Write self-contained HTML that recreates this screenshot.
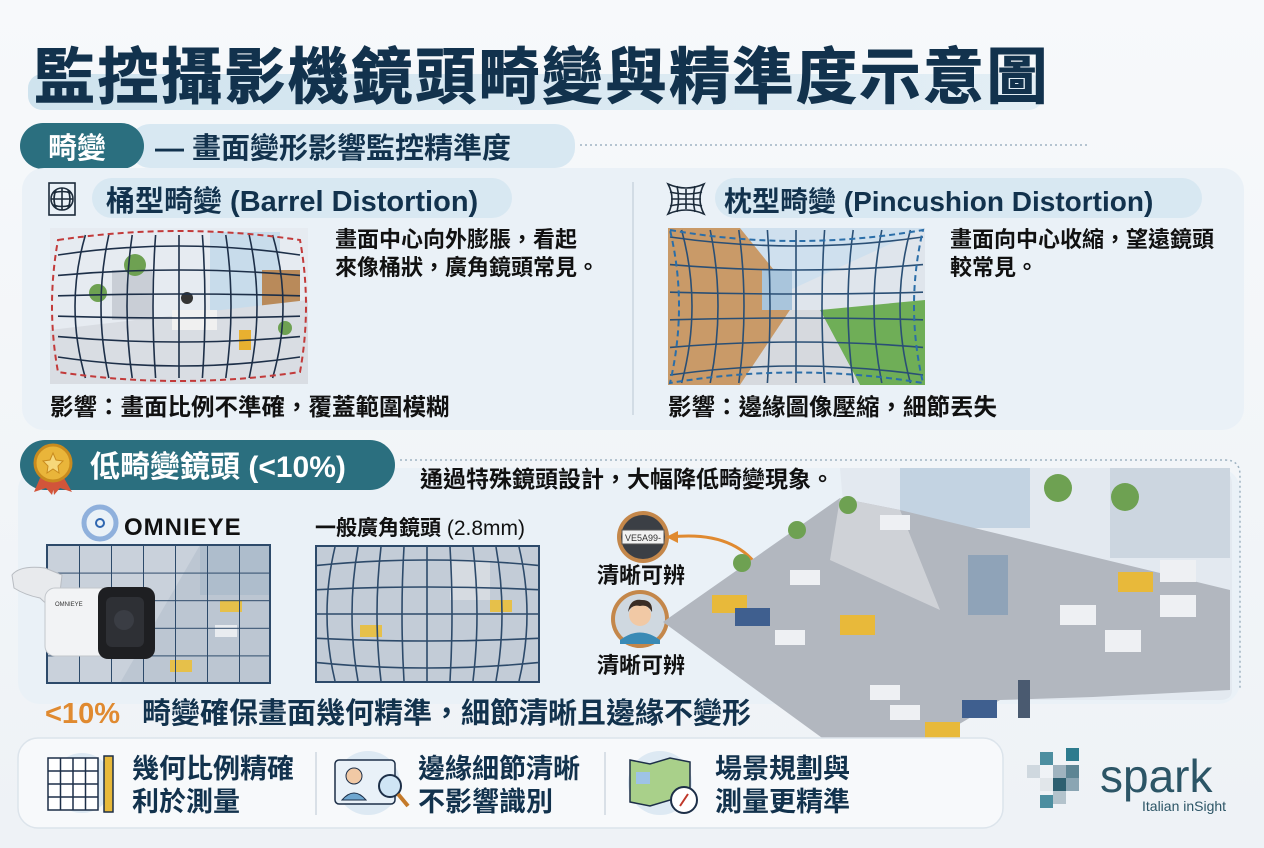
<!DOCTYPE html>
<html><head><meta charset="utf-8">
<style>
html,body{margin:0;padding:0;width:1264px;height:848px;overflow:hidden;background:#f3f6f9;}
svg{display:block;font-family:"Liberation Sans","Noto Sans CJK TC",sans-serif;}
.b{font-weight:bold;}
</style></head><body>
<svg width="1264" height="848" viewBox="0 0 1264 848" xmlns="http://www.w3.org/2000/svg">
<defs>
<linearGradient id="bg" x1="0" y1="0" x2="0" y2="1"><stop offset="0" stop-color="#f7f9fb"/><stop offset="1" stop-color="#eef2f6"/></linearGradient>
<linearGradient id="hl" x1="0" y1="0" x2="1" y2="0"><stop offset="0" stop-color="#cfe3ee"/><stop offset="1" stop-color="#e3eef5"/></linearGradient>
<pattern id="g1" x="47" y="545" width="32" height="27.6" patternUnits="userSpaceOnUse"><path d="M0 0H32M0 0V27.6" stroke="#2d4a6a" stroke-width="2" fill="none"/></pattern>
</defs>
<rect width="1264" height="848" fill="url(#bg)"/>

<!-- Title -->
<rect x="28" y="74" width="1015" height="36" rx="14" fill="url(#hl)"/>
<text x="34" y="98" class="b" font-size="61" fill="#12324d" letter-spacing="2.5" stroke="#12324d" stroke-width="1">監控攝影機鏡頭畸變與精準度示意圖</text>

<!-- Section 1 header -->
<rect x="130" y="124" width="445" height="44" rx="20" fill="#d8e8f2"/>
<rect x="20" y="123" width="124" height="46" rx="23" fill="#2b6f7f"/>
<text x="48" y="158" class="b" font-size="29" fill="#fff">畸變</text>
<text x="155" y="158" class="b" font-size="29" fill="#12324d">— 畫面變形影響監控精準度</text>
<line x1="580" y1="145" x2="1090" y2="145" stroke="#9fb3c2" stroke-width="1.5" stroke-dasharray="2 3"/>

<!-- Panel 1 -->
<rect x="22" y="168" width="1222" height="262" rx="22" fill="#eaf1f7"/>
<line x1="633" y1="182" x2="633" y2="415" stroke="#c9d5df" stroke-width="1.5"/>

<!-- barrel icon -->
<g stroke="#1c2b3a" stroke-width="1.6" fill="none">
<rect x="49" y="183" width="26" height="32"/>
<circle cx="62" cy="199" r="11"/>
<path d="M62 188V210M51 199H73M56 190Q52 199 56 208M68 190Q72 199 68 208M53 193Q62 190 71 193M53 205Q62 208 71 205"/>
</g>
<rect x="92" y="178" width="420" height="40" rx="20" fill="#d8e8f2"/>
<text x="106" y="211" class="b" font-size="29" fill="#12324d">桶型畸變 (Barrel Distortion)</text>

<!-- barrel image -->
<rect x="50" y="228" width="258" height="156" fill="#e6ebf1"/>
<rect x="210" y="232" width="70" height="110" fill="#c8dceb"/>
<rect x="262" y="270" width="38" height="82" fill="#b98a5a"/>
<polygon points="50,330 308,300 308,384 50,384" fill="#d9dde3"/>
<rect x="112" y="270" width="40" height="50" fill="#c9ced6"/>
<circle cx="135" cy="265" r="11" fill="#6ea152"/>
<circle cx="98" cy="293" r="9" fill="#6ea152"/>
<rect x="172" y="310" width="45" height="20" fill="#f0f0f0"/>
<circle cx="187" cy="298" r="6" fill="#333"/>
<rect x="239" y="330" width="12" height="20" fill="#e8b030"/>
<circle cx="285" cy="328" r="7" fill="#6ea152"/>
<g stroke="#1d2f48" stroke-width="1.6" fill="none">
<path d="M85.4 235Q64.6 306 85.4 378M108.8 235Q93.2 306 108.8 378M132.2 235Q121.8 306 132.2 378M155.6 235Q150.4 306 155.6 378M179 235V378M202.4 235Q207.6 306 202.4 378M225.8 235Q236.2 306 225.8 378M249.2 235Q264.8 306 249.2 378M272.6 235Q293.4 306 272.6 378"/>
<path d="M58 255Q179 237 300 255M58 275.4Q179 264.6 300 275.4M58 295.8Q179 292.2 300 295.8M58 316.2Q179 319.8 300 316.2M58 336.6Q179 347.4 300 336.6M58 357Q179 375 300 357"/>
</g>
<path d="M58 240Q179 222 300 240Q312 306 300 372Q179 390 58 372Q46 306 58 240Z" fill="none" stroke="#c23a3a" stroke-width="2" stroke-dasharray="6 4"/>
<text x="335" y="247" class="b" font-size="22" fill="#111">畫面中心向外膨脹，看起</text>
<text x="335" y="275" class="b" font-size="22" fill="#111">來像桶狀，廣角鏡頭常見。</text>
<text x="50" y="415" class="b" font-size="23.5" fill="#111">影響：畫面比例不準確，覆蓋範圍模糊</text>

<!-- pincushion icon -->
<g stroke="#1c2b3a" stroke-width="1.6" fill="none">
<path d="M668 184Q686 192 704 184Q696 199 704 214Q686 206 668 214Q676 199 668 184Z"/>
<path d="M677 186Q680 199 677 212M686 189V209M695 186Q692 199 695 212M670 192Q686 196 702 192M671 199H701M670 206Q686 202 702 206"/>
</g>
<rect x="715" y="178" width="487" height="40" rx="20" fill="#d8e8f2"/>
<text x="724" y="211" class="b" font-size="28" fill="#12324d">枕型畸變 (Pincushion Distortion)</text>

<!-- pincushion image -->
<rect x="668" y="228" width="257" height="157" fill="#cfe0ee"/>
<polygon points="668,228 740,228 790,290 790,310 740,385 668,385" fill="#c99a68"/>
<polygon points="790,290 925,228 925,385 820,330 790,310" fill="#dfe5ec"/>
<polygon points="820,310 925,300 925,385 860,385" fill="#6fae57"/>
<polygon points="740,385 790,310 820,310 860,385" fill="#d6d9de"/>
<rect x="762" y="270" width="30" height="40" fill="#a9c5dc"/>
<g stroke="#2a4f75" stroke-width="1.6" fill="none">
<path d="M681.6 230Q702.4 306 681.6 383M710.2 230Q725.8 306 710.2 383M738.8 230Q749.2 306 738.8 383M767.4 230Q772.6 306 767.4 383M796 230V383M824.6 230Q819.4 306 824.6 383M853.2 230Q842.8 306 853.2 383M881.8 230Q866.2 306 881.8 383M910.4 230Q889.6 306 910.4 383"/>
<path d="M670 237Q796 255 923 237M670 264.6Q796 275.4 923 264.6M670 292.2Q796 295.8 923 292.2M670 319.8Q796 316.2 923 319.8M670 347.4Q796 336.6 923 347.4M670 375Q796 357 923 375"/>
</g>
<path d="M670 230Q796 252 923 230Q905 306 923 383Q796 362 670 383Q688 306 670 230Z" fill="none" stroke="#2b6ea8" stroke-width="2" stroke-dasharray="6 4"/>
<text x="950" y="247" class="b" font-size="22" fill="#111">畫面向中心收縮，望遠鏡頭</text>
<text x="950" y="275" class="b" font-size="22" fill="#111">較常見。</text>
<text x="668" y="415" class="b" font-size="23.5" fill="#111">影響：邊緣圖像壓縮，細節丟失</text>

<!-- Section 2 -->
<rect x="18" y="468" width="1222" height="236" rx="22" fill="#eaf1f7"/>
<path d="M400 460H1225Q1240 460 1240 475V690" fill="none" stroke="#9fb3c2" stroke-width="1.5" stroke-dasharray="2 3"/>
<rect x="20" y="440" width="375" height="50" rx="25" fill="#2b6f7f"/>
<polygon points="40,478 34,492 46,488 52,495 56,480" fill="#d2553a"/>
<polygon points="64,478 72,492 60,488 54,495 52,480" fill="#d2553a"/>
<circle cx="53" cy="463" r="18" fill="#e9b53a" stroke="#c98b1e" stroke-width="3"/>
<polygon points="53,453 56,460 63,461 58,466 59,473 53,469 47,473 48,466 43,461 50,460" fill="#f6d77a" stroke="#c98b1e" stroke-width="1"/>
<text x="90" y="477" class="b" font-size="30" fill="#fff">低畸變鏡頭 (&lt;10%)</text>
<text x="420" y="487" class="b" font-size="23" fill="#111">通過特殊鏡頭設計，大幅降低畸變現象。</text>

<!-- omnieye logo -->
<circle cx="100" cy="523" r="16" fill="none" stroke="#8fb0dc" stroke-width="5"/>
<circle cx="100" cy="523" r="4" fill="none" stroke="#2f66b0" stroke-width="2"/>
<text x="124" y="535" class="b" font-size="24" fill="#111" letter-spacing="1">OMNIEYE</text>
<text x="315" y="535" class="b" font-size="21" fill="#111">一般廣角鏡頭 <tspan font-weight="normal">(2.8mm)</tspan></text>

<!-- grid 1 -->
<rect x="47" y="545" width="223" height="138" fill="#bcc6d2"/>
<polygon points="47,545 200,545 120,683 47,683" fill="#c9d1db"/>
<rect x="200" y="545" width="70" height="50" fill="#aebdcc"/>
<rect x="220" y="600" width="22" height="12" fill="#e6c04a"/>
<rect x="170" y="660" width="22" height="12" fill="#e6c04a"/>
<rect x="215" y="625" width="22" height="12" fill="#e9ecf0"/>
<rect x="47" y="545" width="223" height="138" fill="url(#g1)" stroke="#2d4a6a" stroke-width="2"/>
<!-- camera -->
<path d="M12 575Q20 565 45 568L62 575L60 592L70 600L55 612L40 598Q25 595 14 588Z" fill="#e8eaed" stroke="#b8bcc2"/>
<rect x="45" y="588" width="80" height="68" rx="10" fill="#f2f3f5" stroke="#c3c7cc"/>
<rect x="98" y="587" width="57" height="72" rx="10" fill="#1e1f22"/>
<rect x="106" y="597" width="38" height="50" rx="6" fill="#2e3035"/>
<circle cx="124" cy="620" r="10" fill="#3a3d44"/>
<text x="55" y="606" font-size="6" fill="#333">OMNIEYE</text>

<!-- grid 2 -->
<rect x="315" y="545" width="225" height="138" fill="#c3ccd7"/>
<rect x="450" y="560" width="40" height="40" fill="#d6dbe1"/>
<rect x="360" y="625" width="22" height="12" fill="#e6c04a"/>
<rect x="490" y="600" width="22" height="12" fill="#e6c04a"/>
<g stroke="#2d4a6a" stroke-width="1.6" fill="none">
<rect x="316" y="546" width="223" height="136" stroke-width="2"/>
<path d="M335 547Q319 614 335 681M358 547Q346 614 358 681M381 547Q373 614 381 681M404 547Q400 614 404 681M427 547V681M450 547Q454 614 450 681M473 547Q481 614 473 681M496 547Q508 614 496 681M519 547Q535 614 519 681"/>
<path d="M317 565.4Q427 554.6 538 565.4M317 589.7Q427 584.3 538 589.7M317 614H538M317 638.3Q427 643.7 538 638.3M317 662.6Q427 673.4 538 662.6"/>
</g>

<!-- clear circles -->
<circle cx="643" cy="537" r="26" fill="#c4874a"/>
<circle cx="643" cy="537" r="22" fill="#3b3f45"/>
<rect x="622" y="530" width="42" height="14" fill="#f2f2f2" stroke="#555"/>
<text x="625" y="541" font-size="9" fill="#333">VE5A99-</text>
<path d="M670 537Q735 530 760 570" fill="none" stroke="#e08a30" stroke-width="3"/>
<polygon points="666,537 678,531 678,543" fill="#e08a30"/>
<text x="597" y="583" class="b" font-size="22" fill="#111">清晰可辨</text>
<circle cx="640" cy="619" r="29" fill="#c4874a"/>
<circle cx="640" cy="619" r="25" fill="#cfd8e0"/>
<path d="M620 640Q640 625 660 640L660 644H620Z" fill="#3a8ab5"/>
<circle cx="640" cy="615" r="11" fill="#f1c9a5"/>
<path d="M628 612Q630 598 642 600Q653 600 652 612Q648 604 640 606Q632 604 628 612Z" fill="#3a2d25"/>
<line x1="670" y1="619" x2="695" y2="619" stroke="#e08a30" stroke-width="3"/>
<polygon points="702,619 690,612 690,626" fill="#e08a30"/>
<text x="597" y="673" class="b" font-size="22" fill="#111">清晰可辨</text>

<!-- parking scene -->
<path d="M840 468H1215Q1232 468 1232 485V690Q1232 700 1220 700H860Z" fill="#e3e9f0"/>
<rect x="900" y="468" width="130" height="60" fill="#c3d3e2"/>
<rect x="1110" y="468" width="120" height="90" fill="#ccd6e0"/>
<circle cx="1058" cy="488" r="14" fill="#6ea152"/>
<circle cx="1125" cy="497" r="14" fill="#6ea152"/>
<polygon points="663,622 840,498 900,510 1230,590 1230,690 1093,697 1000,700 873,775" fill="#b2b7bf"/>
<polygon points="840,498 900,510 940,610 830,560" fill="#cfd2d7"/>
<g fill="#eef0f3"><rect x="880" y="515" width="30" height="15"/><rect x="790" y="570" width="30" height="15"/><rect x="775" y="630" width="30" height="15"/><rect x="870" y="685" width="30" height="15"/><rect x="890" y="705" width="30" height="15"/><rect x="1060" y="605" width="36" height="20"/><rect x="1160" y="560" width="36" height="22"/><rect x="1160" y="595" width="36" height="22"/><rect x="1105" y="630" width="36" height="22"/></g>
<g fill="#e8b93a"><rect x="712" y="595" width="35" height="18"/><rect x="840" y="615" width="35" height="20"/><rect x="1118" y="572" width="35" height="20"/><rect x="925" y="722" width="35" height="18"/></g>
<g fill="#3f5f8f"><rect x="735" y="608" width="35" height="18"/><rect x="962" y="700" width="35" height="18"/></g>
<rect x="968" y="555" width="40" height="60" fill="#8fa3b8"/>
<rect x="1018" y="680" width="12" height="38" fill="#4a5a70"/>
<circle cx="797" cy="530" r="9" fill="#6ea152"/><circle cx="848" cy="505" r="9" fill="#6ea152"/><circle cx="742" cy="563" r="9" fill="#6ea152"/>

<text x="45" y="723" class="b" font-size="29" fill="#e08a30">&lt;10%</text>
<text x="142" y="723" class="b" font-size="29" fill="#12324d">畸變確保畫面幾何精準，細節清晰且邊緣不變形</text>

<!-- bottom bar -->
<rect x="18" y="738" width="985" height="90" rx="20" fill="#f7f9fb" stroke="#dce4eb" stroke-width="1.5"/>
<line x1="316" y1="752" x2="316" y2="815" stroke="#cfd8e0" stroke-width="1.5"/>
<line x1="605" y1="752" x2="605" y2="815" stroke="#cfd8e0" stroke-width="1.5"/>
<circle cx="82" cy="783" r="30" fill="#dde9f3"/>
<g stroke="#1d2f48" stroke-width="1.5" fill="#fff"><rect x="48" y="758" width="50" height="52"/><path d="M60.5 758V810M73 758V810M85.5 758V810M48 771H98M48 784H98M48 797H98" fill="none"/><rect x="104" y="756" width="9" height="56" fill="#e8b93a"/></g>
<text x="132" y="778" class="b" font-size="27" fill="#12324d">幾何比例精確</text>
<text x="132" y="811" class="b" font-size="27" fill="#12324d">利於測量</text>
<circle cx="368" cy="783" r="32" fill="#dde9f3"/>
<rect x="335" y="760" width="60" height="44" rx="4" fill="#e9f1f8" stroke="#1d2f48" stroke-width="1.5"/>
<circle cx="354" cy="776" r="8" fill="#f1c9a5" stroke="#1d2f48"/>
<path d="M342 800Q354 786 366 800Z" fill="#6fa7d0" stroke="#1d2f48"/>
<circle cx="390" cy="786" r="11" fill="#cfe5f5" stroke="#1d2f48" stroke-width="2"/>
<line x1="398" y1="794" x2="408" y2="806" stroke="#c47a2a" stroke-width="4"/>
<text x="418" y="778" class="b" font-size="27" fill="#12324d">邊緣細節清晰</text>
<text x="418" y="811" class="b" font-size="27" fill="#12324d">不影響識別</text>
<circle cx="660" cy="783" r="32" fill="#dde9f3"/>
<polygon points="630,760 650,764 670,758 690,762 690,804 670,800 650,806 630,802" fill="#a9d08a" stroke="#1d2f48" stroke-width="1.5"/>
<rect x="636" y="772" width="14" height="12" fill="#9ec3e6"/>
<circle cx="684" cy="800" r="13" fill="#fff" stroke="#1d2f48" stroke-width="2"/>
<line x1="680" y1="806" x2="688" y2="794" stroke="#c0392b" stroke-width="2"/>
<text x="715" y="778" class="b" font-size="27" fill="#12324d">場景規劃與</text>
<text x="715" y="811" class="b" font-size="27" fill="#12324d">測量更精準</text>

<!-- spark logo -->
<g>
<rect x="1040" y="752" width="13" height="13" fill="#4c8ea0"/><rect x="1066" y="748" width="13" height="13" fill="#2d7b8e"/>
<rect x="1027" y="765" width="13" height="13" fill="#cfd8df"/><rect x="1053" y="765" width="13" height="13" fill="#9fb3bf"/><rect x="1066" y="765" width="13" height="13" fill="#5d8594"/>
<rect x="1040" y="778" width="13" height="13" fill="#e1e6ea"/><rect x="1053" y="778" width="13" height="13" fill="#2d5f70"/><rect x="1066" y="778" width="13" height="13" fill="#8aa5b3"/>
<rect x="1053" y="791" width="13" height="13" fill="#b3c3cc"/><rect x="1040" y="795" width="13" height="13" fill="#4c8ea0"/>
</g>
<text x="1100" y="792" font-size="46" fill="#2c5566">spark</text>
<text x="1142" y="811" font-size="14" fill="#2c5566">Italian inSight</text>
</svg>
</body></html>
